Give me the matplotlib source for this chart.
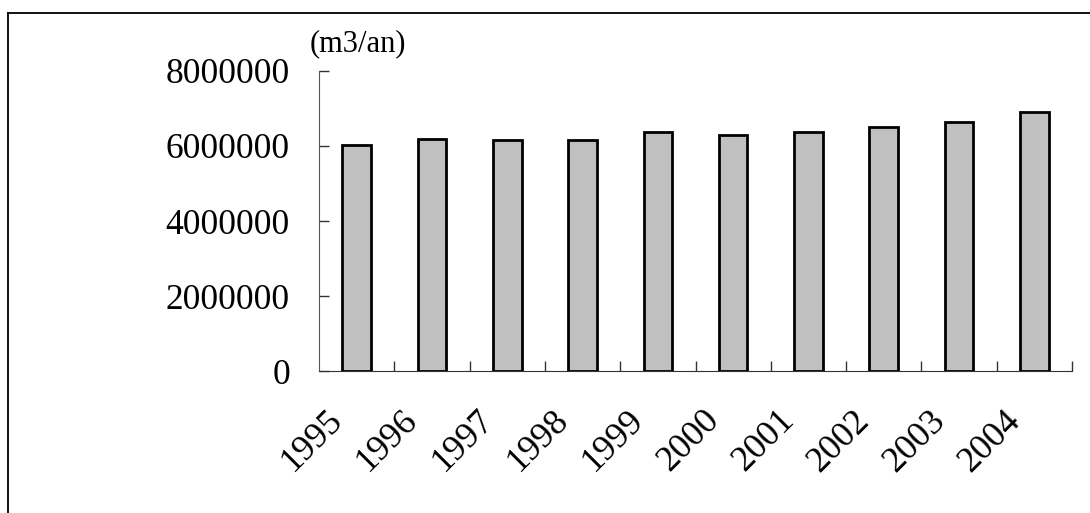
import matplotlib.pyplot as plt
from matplotlib.lines import Line2D
from matplotlib.transforms import ScaledTranslation

annees = ['1995', '1996', '1997', '1998', '1999', '2000', '2001', '2002', '2003', '2004']
volumes = [6030000, 6190000, 6150000, 6150000, 6380000, 6300000, 6380000, 6500000, 6650000, 6910000]

plt.rcParams['font.family'] = ['Liberation Serif', 'DejaVu Serif']

fig = plt.figure(figsize=(10.9, 5.13), dpi=100)
ax = fig.add_axes([0.2927, 0.2768, 0.6908, 0.5848])

x = range(len(annees))
ax.bar(x, volumes, width=0.38, color='#c0c0c0', edgecolor='black', linewidth=2, zorder=3)

ax.set_xlim(-0.5, len(annees) - 0.5)
ax.set_ylim(0, 8000000)
ax.set_yticks([0, 2000000, 4000000, 6000000, 8000000])
ax.set_yticklabels(['0', '2000000', '4000000', '6000000', '8000000'], fontsize=25.5)

# graduations entre les catégories, étiquettes centrées sous les barres
ax.set_xticks([i + 0.5 for i in x])
ax.set_xticklabels([])
ax.set_xticks(list(x), minor=True)
ax.set_xticklabels(annees, minor=True, fontsize=26, rotation=45,
                   ha='right', va='center', rotation_mode='anchor')
ax.tick_params(axis='x', which='major', direction='in', length=7, width=1, color='#333333')
ax.tick_params(axis='x', which='minor', length=0, pad=32)
ax.tick_params(axis='y', direction='in', length=7, width=1, color='#333333', pad=21)

# décalage des années vers la gauche (après tick_params, qui réinitialise les transformations)
decalage = ScaledTranslation(-19 / 100, 0, fig.dpi_scale_trans)
for lab in ax.get_xticklabels(minor=True):
    lab.set_transform(lab.get_transform() + decalage)

for side in ['top', 'right']:
    ax.spines[side].set_visible(False)
ax.spines['left'].set_color('#555555')
ax.spines['bottom'].set_color('#333333')

fig.text(310 / 1090, 1 - 58 / 513, '(m3/an)', fontsize=22, va='bottom', ha='left')

# cadre du graphique
fig.add_artist(Line2D([8 / 1090, 8 / 1090], [0, 1 - 13 / 513], color='black', linewidth=1.3,
                      transform=fig.transFigure))
fig.add_artist(Line2D([8 / 1090, 1], [1 - 13 / 513, 1 - 13 / 513], color='black', linewidth=1.3,
                      transform=fig.transFigure))

fig.savefig('out.png', dpi=100)
